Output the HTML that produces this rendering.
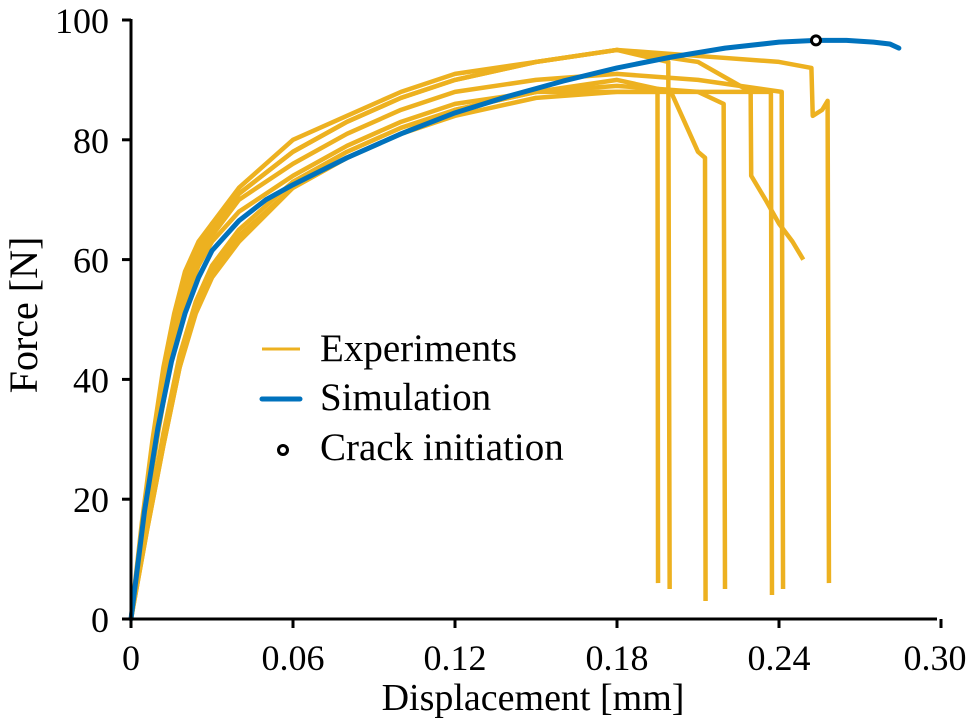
<!DOCTYPE html>
<html><head><meta charset="utf-8"><style>
body{margin:0;background:#fff}
svg{display:block;font-family:"Liberation Serif",serif}
</style></head><body>
<svg id="chart" width="969" height="724" viewBox="0 0 969 724" xmlns="http://www.w3.org/2000/svg">
<g id="plot"></g>
<g id="axes"></g>
<g>
 <line x1="262" y1="349" x2="300" y2="349" stroke="#EDB120" stroke-width="3"/>
 <text x="320" y="361" font-size="39">Experiments</text>
 <line x1="262" y1="399" x2="300" y2="399" stroke="#0072BD" stroke-width="5" stroke-linecap="round"/>
 <text x="320" y="410" font-size="39">Simulation</text>
 <circle cx="283" cy="450" r="4.5" fill="#fff" stroke="#000" stroke-width="3"/>
 <text x="320" y="460" font-size="39">Crack initiation</text>
</g>
<text transform="translate(37,315) rotate(-90)" text-anchor="middle" font-size="40">Force [N]</text>
<text x="533" y="710" text-anchor="middle" font-size="38">Displacement [mm]</text>
</svg>
<script>
const xTicks=[0,0.06,0.12,0.18,0.24,0.30];
const xTickLabels=["0","0.06","0.12","0.18","0.24","0.30"];
const yTicks=[0,20,40,60,80,100];
const yTickLabels=["0","20","40","60","80","100"];
const simX=[0,0.005,0.01,0.015,0.02,0.025,0.03,0.04,0.05,0.06,0.08,0.10,0.12,0.14,0.16,0.18,0.20,0.22,0.24,0.2537,0.265,0.275,0.281,0.2844];
const simY=[0,18,32,43,51,57,61.5,66.5,70,72.5,77,81,84.5,87.3,89.8,92,93.8,95.3,96.3,96.6,96.6,96.3,96,95.3];
const crackX=[0.2537];
const crackY=[96.6];
const expX=[
[0,0.005,0.01,0.015,0.02,0.025,0.03,0.04,0.06,0.08,0.10,0.12,0.15,0.18,0.195,0.1952],
[0,0.005,0.01,0.015,0.02,0.025,0.03,0.04,0.06,0.08,0.10,0.12,0.15,0.18,0.199,0.1995],
[0,0.006,0.012,0.018,0.024,0.03,0.04,0.06,0.08,0.10,0.12,0.15,0.18,0.20,0.205,0.21,0.2126,0.2128],
[0,0.006,0.012,0.018,0.024,0.03,0.04,0.06,0.08,0.10,0.12,0.15,0.18,0.21,0.2195,0.22],
[0,0.004,0.008,0.012,0.016,0.02,0.025,0.03,0.04,0.06,0.08,0.10,0.12,0.15,0.18,0.21,0.2295,0.2297,0.235,0.24,0.245,0.249],
[0,0.006,0.012,0.018,0.024,0.03,0.04,0.06,0.08,0.10,0.12,0.15,0.18,0.21,0.237,0.2374],
[0,0.005,0.01,0.015,0.02,0.025,0.03,0.04,0.06,0.08,0.10,0.12,0.15,0.18,0.21,0.241,0.2415],
[0,0.005,0.01,0.015,0.02,0.025,0.03,0.04,0.06,0.08,0.10,0.12,0.15,0.18,0.21,0.24,0.252,0.2525,0.256,0.258,0.2585]
];
const expY=[
[0,16,31,44,53,59,63,68,74,79,83,86,88,88,88,6],
[0,18,33,46,55,61,65,71,78,83,87,90,93,95,93,5],
[0,16,31,44,53,59,65,73,78,82,85,88,90,88,83,78,77,3],
[0,15,29,42,52,58,64,72,77,81,85,88,89,88,86,5],
[0,16,30,42,51,58,63,66,71,78,83,87,90,93,95,93,88,74,70,66,63,60],
[0,15,29,42,51,57,63,72,77,81,84,87,88,88,88,4],
[0,17,32,45,54,60,64,70,76,81,85,88,90,91,90,88,5],
[0,19,34,47,56,62,66,72,80,84,88,91,93,95,94,93,92,84,85,86.5,6]
];
const X=v=>131+v*2700, Y=v=>619-v*5.99;
const NS="http://www.w3.org/2000/svg";
const plot=document.getElementById('plot'), axes=document.getElementById('axes');
function mk(tag,attrs,parent){const e=document.createElementNS(NS,tag);for(const k in attrs)e.setAttribute(k,attrs[k]);parent.appendChild(e);return e;}
expX.forEach((xs,i)=>{
 const p=mk('polyline',{points:xs.map((x,j)=>X(x)+','+Y(expY[i][j])).join(' '),fill:'none',stroke:'#EDB120','stroke-width':4.5,'stroke-linejoin':'round'},plot);
 
 
});
const s=mk('polyline',{points:simX.map((x,j)=>X(x)+','+Y(simY[j])).join(' '),fill:'none',stroke:'#0072BD','stroke-width':5,'stroke-linejoin':'round','stroke-linecap':'round'},plot);


crackX.forEach((x,i)=>{
 const c=mk('circle',{cx:X(x),cy:Y(crackY[i]),r:4.5,fill:'#fff',stroke:'#000','stroke-width':3},plot);
 
 
});
const ya=mk('line',{x1:131,y1:19,x2:131,y2:620,stroke:'#000','stroke-width':3},axes);


const xa=mk('line',{x1:130,y1:619,x2:937,y2:619,stroke:'#000','stroke-width':3},axes);


yTicks.forEach((v,i)=>{
 const t=mk('line',{x1:122,y1:Y(v),x2:131,y2:Y(v),stroke:'#000','stroke-width':3},axes);
 
 
 const l=mk('text',{x:109,y:Y(v)+13,'text-anchor':'end','font-size':36},axes);
 l.textContent=yTickLabels[i];
 
 
});
xTicks.forEach((v,i)=>{
 const t=mk('line',{x1:X(v),y1:619,x2:X(v),y2:628,stroke:'#000','stroke-width':3},axes);
 
 
 const l=mk('text',{x:i==xTicks.length-1?X(v)-6:X(v),y:670,'text-anchor':'middle','font-size':36},axes);
 l.textContent=xTickLabels[i];
 
 
});
</script>
</body></html>
